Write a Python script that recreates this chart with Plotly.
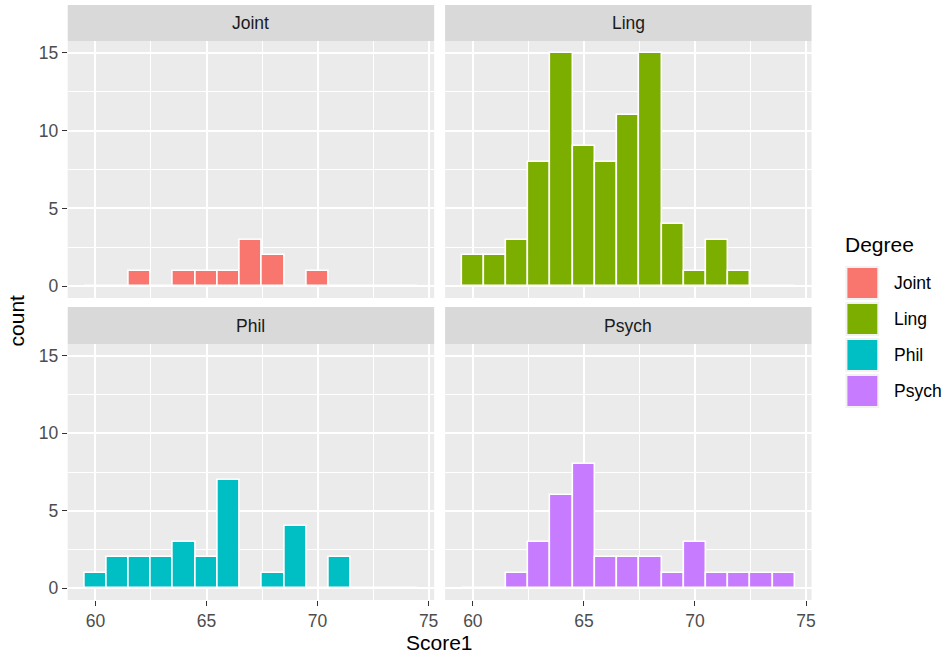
import plotly.graph_objects as go

# Histogram of Score1 (binwidth 1), faceted by Degree
bin_centers = list(range(60, 75))
degrees = ["Joint", "Ling", "Phil", "Psych"]
colors = ["#F8766D", "#7CAE00", "#00BFC4", "#C77CFF"]

joint_counts = [0, 0, 1, 0, 1, 1, 1, 3, 2, 0, 1, 0, 0, 0, 0]
ling_counts = [2, 2, 3, 8, 15, 9, 8, 11, 15, 4, 1, 3, 1, 0, 0]
phil_counts = [1, 2, 2, 2, 3, 2, 7, 0, 1, 4, 0, 2, 0, 0, 0]
psych_counts = [0, 0, 1, 3, 6, 8, 2, 2, 2, 1, 3, 1, 1, 1, 1]
counts = [joint_counts, ling_counts, phil_counts, psych_counts]

x_ticks = [60, 65, 70, 75]
y_ticks = [0, 5, 10, 15]

W, H = 949, 655
FONT = "Liberation Sans, Arial, sans-serif"
SMALL = 17.5
LARGE = 21

# panel geometry in pixels: (left, right) and (top, bottom)
cols_px = [(68, 436), (447, 815)]
rows_px = [(41, 298), (344, 600)]
strips_px = [(5, 41), (307, 344)]


def xdom(c):
    return [cols_px[c][0] / W, cols_px[c][1] / W]


def ydom(r):
    return [1 - rows_px[r][1] / H, 1 - rows_px[r][0] / H]


fig = go.Figure()
layout = dict(
    width=W, height=H,
    margin=dict(l=0, r=0, t=0, b=0),
    paper_bgcolor="white",
    plot_bgcolor="#EBEBEB",
    showlegend=False,
    bargap=0,
    font=dict(family=FONT),
    shapes=[], annotations=[],
)

for i, (deg, col, cnt) in enumerate(zip(degrees, colors, counts)):
    r, c = divmod(i, 2)
    n = i + 1
    xa = "xaxis" if n == 1 else f"xaxis{n}"
    ya = "yaxis" if n == 1 else f"yaxis{n}"
    xref = "x" if n == 1 else f"x{n}"
    yref = "y" if n == 1 else f"y{n}"
    fig.add_trace(go.Bar(
        x=bin_centers, y=cnt, width=1,
        marker=dict(color=col, line=dict(color="white", width=1.6)),
        xaxis=xref, yaxis=yref, name=deg,
    ))
    layout[xa] = dict(
        domain=xdom(c), anchor=yref, range=[58.75, 75.25],
        tickvals=x_ticks, ticktext=[str(v) for v in x_ticks],
        showticklabels=(r == 1), ticks="outside" if r == 1 else "",
        ticklen=5, tickwidth=1.2, tickcolor="#333333",
        tickfont=dict(size=SMALL, color="#4D4D4D", family=FONT),
        showgrid=True, gridcolor="white", gridwidth=2,
        minor=dict(tick0=2.5, dtick=2.5, showgrid=True, gridcolor="white", gridwidth=1),
        zeroline=False, showline=False, fixedrange=True,
    )
    layout[ya] = dict(
        domain=ydom(r), anchor=xref, range=[-0.75, 15.75],
        tickvals=y_ticks, ticktext=[str(v) for v in y_ticks],
        showticklabels=(c == 0), ticks="outside" if c == 0 else "",
        ticklen=5, tickwidth=1.2, tickcolor="#333333",
        tickfont=dict(size=SMALL, color="#4D4D4D", family=FONT),
        showgrid=True, gridcolor="white", gridwidth=2,
        minor=dict(tick0=2.5, dtick=2.5, showgrid=True, gridcolor="white", gridwidth=1),
        zeroline=False, showline=False, fixedrange=True,
    )
    # facet strip
    s_top, s_bot = strips_px[r]
    layout["shapes"].append(dict(
        type="rect", xref="paper", yref="paper",
        x0=xdom(c)[0], x1=xdom(c)[1], y0=1 - s_bot / H, y1=1 - s_top / H,
        fillcolor="#D9D9D9", line=dict(width=0), layer="below",
    ))
    layout["annotations"].append(dict(
        text=deg, xref="paper", yref="paper",
        x=sum(xdom(c)) / 2, y=1 - (s_top + s_bot) / 2 / H,
        xanchor="center", yanchor="middle", showarrow=False,
        font=dict(size=SMALL, color="#1A1A1A", family=FONT),
    ))

# axis titles
layout["annotations"].append(dict(
    text="Score1", xref="paper", yref="paper",
    x=(cols_px[0][0] + cols_px[1][1]) / 2 / W, y=0,
    xanchor="center", yanchor="bottom", showarrow=False, borderpad=0,
    font=dict(size=LARGE, color="black", family=FONT),
))
layout["annotations"].append(dict(
    text="count", xref="paper", yref="paper",
    x=17 / W, y=1 - (rows_px[0][0] + rows_px[1][1]) / 2 / H,
    xanchor="center", yanchor="middle", showarrow=False, textangle=-90,
    font=dict(size=LARGE, color="black", family=FONT),
))

# legend
layout["annotations"].append(dict(
    text="Degree", xref="paper", yref="paper",
    x=847 / W, y=1 - 244 / H, xanchor="left", yanchor="middle", showarrow=False,
    font=dict(size=LARGE, color="black", family=FONT),
))
key_top, key_size, key_step = 266, 34, 36
for j, (deg, col) in enumerate(zip(degrees, colors)):
    y0 = key_top + j * key_step
    layout["shapes"].append(dict(
        type="rect", xref="paper", yref="paper",
        x0=849 / W, x1=(849 + key_size) / W,
        y0=1 - (y0 + key_size) / H, y1=1 - y0 / H,
        fillcolor="#F2F2F2", line=dict(width=0),
    ))
    layout["shapes"].append(dict(
        type="rect", xref="paper", yref="paper",
        x0=851 / W, x1=(849 + key_size - 2) / W,
        y0=1 - (y0 + key_size - 2) / H, y1=1 - (y0 + 2) / H,
        fillcolor=col, line=dict(width=0),
    ))
    layout["annotations"].append(dict(
        text=deg, xref="paper", yref="paper",
        x=896 / W, y=1 - (y0 + key_size / 2) / H,
        xanchor="left", yanchor="middle", showarrow=False,
        font=dict(size=SMALL, color="black", family=FONT),
    ))

fig.update_layout(**layout)
fig.write_html("out.html")
